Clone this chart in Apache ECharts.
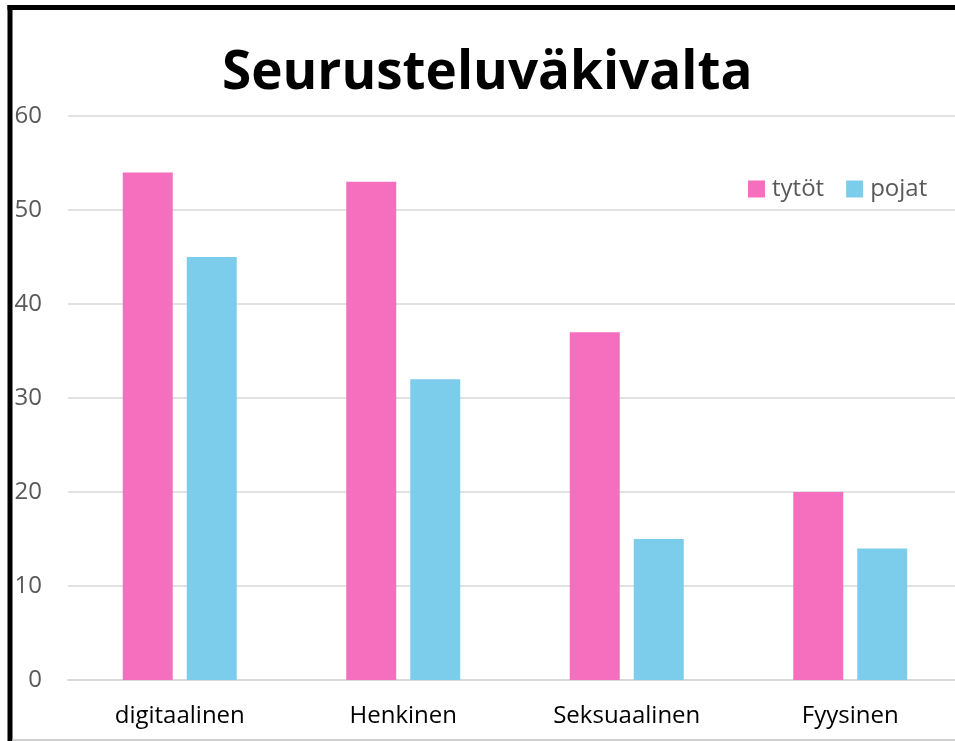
<!DOCTYPE html>
<html>
<head>
<meta charset="utf-8">
<script src="https://cdn.jsdelivr.net/npm/echarts@6/dist/echarts.min.js"></script>
<style>
html,body{margin:0;padding:0;background:#fff;overflow:hidden;width:955px;height:741px;}
#chart{width:962px;height:741px;}
</style>
</head>
<body>
<div id="chart"></div>
<script>
const titleText = 'Seurusteluväkivalta';
const categories = ['digitaalinen', 'Henkinen', 'Seksuaalinen', 'Fyysinen'];
const seriesNames = ['tytöt', 'pojat'];
const tytot = [54, 53, 37, 20];
const pojat = [45, 32, 15, 14];
const yTicks = [0, 10, 20, 30, 40, 50, 60];

const FONT = "'Open Sans', 'Noto Sans', sans-serif";
const chart = echarts.init(document.getElementById('chart'), null, {renderer: 'canvas'});
chart.setOption({
  backgroundColor: '#ffffff',
  animation: false,
  title: {
    text: titleText,
    left: 217,
    top: 39,
    textStyle: {fontFamily: FONT, fontWeight: 'bold', fontSize: 53, color: '#000000', lineHeight: 60}
  },
  legend: {
    data: seriesNames,
    left: 743,
    top: 172,
    itemWidth: 17,
    itemHeight: 17,
    itemGap: 22,
    icon: 'rect',
    textStyle: {fontFamily: FONT, fontSize: 24, color: '#595959', lineHeight: 24, padding: [0, 0, 0, 2]}
  },
  grid: {left: 68, right: 0, top: 116, bottom: 61},
  xAxis: {
    type: 'category',
    data: categories,
    axisLine: {show: true, lineStyle: {color: '#d9d9d9', width: 2}},
    axisTick: {show: false},
    axisLabel: {fontFamily: FONT, fontSize: 24, color: '#000000', margin: 24, lineHeight: 24}
  },
  yAxis: {
    type: 'value',
    min: yTicks[0],
    max: yTicks[yTicks.length - 1],
    interval: 10,
    axisLine: {show: false},
    axisTick: {show: false},
    splitLine: {lineStyle: {color: '#d9d9d9', width: 1.5}},
    axisLabel: {fontFamily: FONT, fontSize: 24, color: '#595959', margin: 26}
  },
  series: [
    {name: seriesNames[0], type: 'bar', data: tytot, barWidth: 50, barGap: '28%',
     itemStyle: {color: '#f66fbf'}},
    {name: seriesNames[1], type: 'bar', data: pojat, barWidth: 50, barGap: '28%',
     itemStyle: {color: '#7ccdec'}}
  ],
  graphic: [
    {type: 'line', shape: {x1: 10, y1: 5, x2: 10, y2: 741}, style: {stroke: '#000', lineWidth: 5}, z: 100},
    {type: 'line', shape: {x1: 7.5, y1: 7.5, x2: 962, y2: 7.5}, style: {stroke: '#000', lineWidth: 5}, z: 100},
    {type: 'line', shape: {x1: 12, y1: 740, x2: 962, y2: 740}, style: {stroke: '#bfbfbf', lineWidth: 1.5}, z: 100}
  ]
});
</script>
</body>
</html>
